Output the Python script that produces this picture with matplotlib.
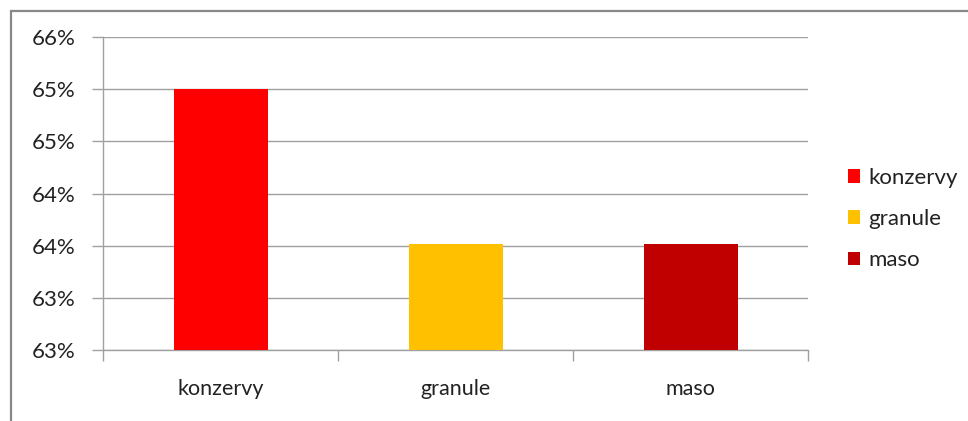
import math
import matplotlib
matplotlib.use("Agg")
import matplotlib.pyplot as plt
from matplotlib.ticker import FuncFormatter, MultipleLocator
from matplotlib.patches import Rectangle, Patch

categories = ["konzervy", "granule", "maso"]
values = [65.0, 63.52, 63.513]
colors = ["#FF0000", "#FFC000", "#C00000"]

plt.rcParams["font.family"] = ["Lato", "DejaVu Sans"]

fig = plt.figure(figsize=(9.68, 4.21), dpi=100)
W, H = 968, 421

# outer chart frame (top/left edges visible)
fig.patches.append(Rectangle((11 / W, -0.1), 1.2, 1.1 - 11 / H,
                             transform=fig.transFigure, fill=False,
                             edgecolor="#888888", linewidth=1.6))

ax = fig.add_axes([103 / W, (421 - 350) / H, 705 / W, 313 / H])
x = range(len(categories))
ax.bar(x, values, width=0.4, color=colors, zorder=3)
ax.set_xlim(-0.5, 2.5)
ax.set_ylim(62.5, 65.5)
ax.yaxis.set_major_locator(MultipleLocator(0.5))
ax.yaxis.set_major_formatter(FuncFormatter(lambda v, p: f"{math.floor(v + 0.5 + 1e-9):d}%"))
ax.grid(axis="y", color="#A0A0A0", linewidth=1.0, zorder=0)

for s in ["top", "right"]:
    ax.spines[s].set_visible(False)
for s in ["left", "bottom"]:
    ax.spines[s].set_color("#A0A0A0")
    ax.spines[s].set_linewidth(1.0)

ax.set_xticks(list(x))
ax.set_xticklabels(categories)
ax.set_xticks([-0.5, 0.5, 1.5, 2.5], minor=True)
ax.tick_params(axis="x", which="major", length=0, pad=21, labelsize=15.5, colors="#222222")
ax.tick_params(axis="x", which="minor", length=8, color="#A0A0A0", width=1.0)
ax.tick_params(axis="y", length=8, color="#A0A0A0", width=1.0, pad=12,
               labelsize=16, labelcolor="#222222")

handles = [Patch(facecolor=c, edgecolor="none") for c in colors]
fig.legend(handles, categories, loc="center left", bbox_to_anchor=(828 / W, 1 - 219 / H),
           frameon=False, fontsize=16, handlelength=0.55, handleheight=0.55,
           handletextpad=0.35, labelspacing=0.95, labelcolor="#222222")

fig.savefig("out.png", dpi=100)
